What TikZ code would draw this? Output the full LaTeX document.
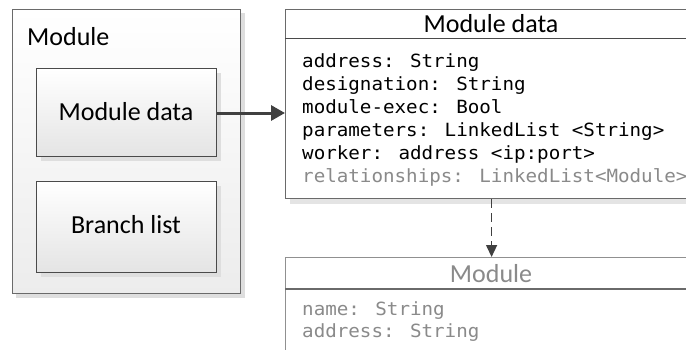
\documentclass[tikz,border=0pt]{standalone}
\usepackage{fontspec}
\setmainfont{Carlito}
\newfontfamily\monof[FakeStretch=1.055]{DejaVu Sans Mono}
\usetikzlibrary{arrows.meta}
\definecolor{shadowc}{HTML}{DEDEDE}
\definecolor{outerline}{HTML}{6A6A6A}
\definecolor{innerline}{HTML}{4A4A4A}
\definecolor{arrowc}{HTML}{404040}
\definecolor{fadec}{HTML}{8A8A8A}
\definecolor{fadeline}{HTML}{909090}
\definecolor{botc}{HTML}{E4E4E4}
\tikzset{
  outerbox/.style={draw=outerline, line width=1.2pt, top color=white, bottom color=botc!70, inner sep=0pt, anchor=north west},
  innerbox/.style={draw=innerline, line width=1.2pt, top color=white, bottom color=botc, inner sep=0pt, anchor=north west},
  classbox/.style={draw=outerline, line width=1.2pt, fill=white, inner sep=0pt, anchor=north west},
  titlefont/.style={font=\fontsize{26}{30}\selectfont, inner sep=0pt, anchor=base},
  attr/.style={font=\monof\fontsize{18.2}{22}\selectfont, inner sep=0pt, anchor=base west},
}
\begin{document}
\begin{tikzpicture}[x=1pt,y=-1pt]
\clip (0,0) rectangle (686,349);
\fill[white] (0,0) rectangle (686,349);
% shadows
\fill[shadowc] (16,13) rectangle (245,298);
\node[outerbox, minimum width=228pt, minimum height=284pt] (outer) at (12,9) {};
\node[font=\fontsize{26}{30}\selectfont, inner sep=0pt, anchor=base west] (outerlbl) at (27,45) {Module};
\fill[shadowc] (41,73) rectangle (221,161);
\fill[shadowc] (41,186) rectangle (221,277);
\node[innerbox, minimum width=180pt, minimum height=88pt] (md) at (36,68) {};
\node[titlefont] (mdlbl) at (126,120) {Module data};
\node[innerbox, minimum width=180pt, minimum height=91pt] (bl) at (36,181) {};
\node[titlefont] (bllbl) at (126,233) {Branch list};
% class box 1
\fill[botc] (290,198) rectangle (702,204);
\node[classbox, minimum width=412pt, minimum height=189pt] (cls1) at (285,9) {};
\draw[innerline, line width=1.2pt] (285,38.5) coordinate (s1a) -- (700,38.5) coordinate (s1b);
\node[titlefont] (cls1t) at (491,32) {Module data};
\node[attr] (a1) at (302,67) {address: String};
\node[attr] (a2) at (302,90) {designation: String};
\node[attr] (a3) at (302,113) {module-exec: Bool};
\node[attr] (a4) at (302,136) {parameters: LinkedList <String>};
\node[attr] (a5) at (302,159) {worker: address <ip:port>};
\node[attr, text=fadec] (a6) at (302,182) {relationships: LinkedList<Module>};
% class box 2
\node[classbox, draw=fadeline, minimum width=412pt, minimum height=120pt] (cls2) at (285,257) {};
\draw[outerline, line width=1.2pt] (285,289) coordinate (s2a) -- (700,289) coordinate (s2b);
\node[titlefont, text=fadec] (cls2t) at (491,282) {Module};
\node[attr, text=fadec] (b1) at (302,315) {name: String};
\node[attr, text=fadec] (b2) at (302,337) {address: String};
% connectors
\draw[arrowc, line width=3pt, -{Triangle[length=14pt,width=15pt]}] (md.east |- 0,113) -- (cls1.west |- 0,113);
\draw[arrowc, line width=1.4pt, dash pattern=on 9pt off 5pt, -{Triangle[length=12pt,width=11pt]}] (cls1.south) -- (cls2.north);
\end{tikzpicture}
\end{document}
